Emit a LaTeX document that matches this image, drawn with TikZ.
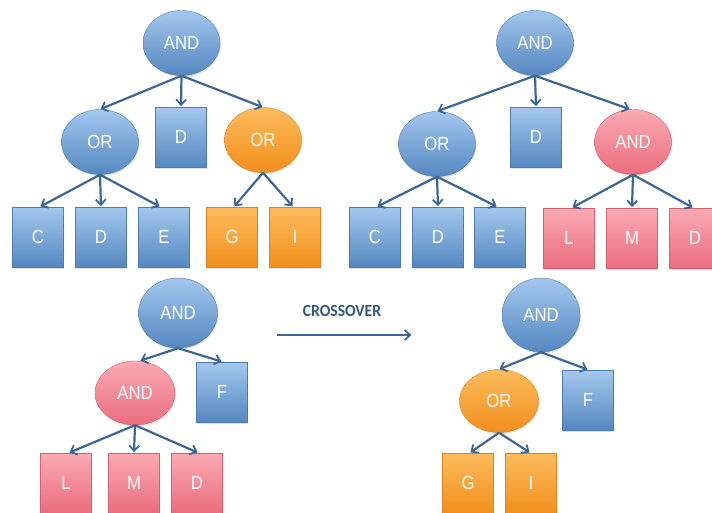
\documentclass[tikz,border=0pt]{standalone}
\usepackage{fontspec}
\usepackage{graphicx}
\setmainfont{Liberation Sans}
\newfontfamily\crossfont{Carlito}
\usetikzlibrary{shapes.geometric,arrows.meta,shadows}
\definecolor{bT}{HTML}{A3C8EE}
\definecolor{bB}{HTML}{5587C0}
\definecolor{bD}{HTML}{4C7CB2}
\definecolor{oT}{HTML}{FDBB5C}
\definecolor{oB}{HTML}{F28F1C}
\definecolor{oD}{HTML}{DB8420}
\definecolor{pT}{HTML}{FAAAB3}
\definecolor{pB}{HTML}{EB6D7E}
\definecolor{pD}{HTML}{D6606F}
\definecolor{arrc}{HTML}{3A6699}
\definecolor{crossc}{HTML}{34557F}
\newcommand{\lbl}[1]{\scalebox{0.88}[1]{#1}}
\tikzset{
  base/.style={text=white,font=\fontsize{19}{19}\selectfont,inner sep=0pt,
    drop shadow={shadow xshift=0.8pt,shadow yshift=-1.5pt,opacity=0.25}},
  oval/.style={base,ellipse,minimum width=77pt,minimum height=65pt},
  leaf/.style={base,rectangle,minimum width=51pt,minimum height=60pt,line width=0.6pt},
  blue/.style={top color=bT,bottom color=bB,draw=bD},
  orange/.style={top color=oT,bottom color=oB,draw=oD},
  pink/.style={top color=pT,bottom color=pB,draw=pD},
  arr/.style={draw=arrc,line width=2.2pt,-{Straight Barb[length=5.5pt,width=10pt,line width=1.8pt]},shorten >=0.5pt},
}
\begin{document}
\begin{tikzpicture}[x=1pt,y=-1pt]
\useasboundingbox (0,0) rectangle (712,512);
% top-left tree
\node[oval,blue] (a1) at (181.5,43) {\lbl{AND}};
\node[oval,blue] (o1) at (100,142) {\lbl{OR}};
\node[leaf,blue] (d1) at (181,137) {\lbl{D}};
\node[oval,orange] (o2) at (263,140) {\lbl{OR}};
\node[leaf,blue] (c1) at (38,237) {\lbl{C}};
\node[leaf,blue] (d2) at (101,237) {\lbl{D}};
\node[leaf,blue] (e1) at (164,237) {\lbl{E}};
\node[leaf,orange] (g1) at (232,237) {\lbl{G}};
\node[leaf,orange] (i1) at (295,237) {\lbl{I}};
\draw[arr] (a1.south) -- (o1.north);
\draw[arr] (a1.south) -- (d1.north);
\draw[arr] (a1.south) -- (o2.north);
\draw[arr] (o1.south) -- ([xshift=2pt]c1.north);
\draw[arr] (o1.south) -- (d2.north);
\draw[arr] (o1.south) -- ([xshift=-4pt]e1.north);
\draw[arr] (o2.south) -- ([xshift=2pt]g1.north);
\draw[arr] (o2.south) -- ([xshift=-2pt]i1.north);
% top-right tree
\node[oval,blue] (a2) at (535,43) {\lbl{AND}};
\node[oval,blue] (o3) at (437,144) {\lbl{OR}};
\node[leaf,blue] (d3) at (536,137) {\lbl{D}};
\node[oval,pink] (a3) at (633,142) {\lbl{AND}};
\node[leaf,blue] (c2) at (375,237) {\lbl{C}};
\node[leaf,blue] (d4) at (438,237) {\lbl{D}};
\node[leaf,blue] (e2) at (500,237) {\lbl{E}};
\node[leaf,pink] (l1) at (569,238) {\lbl{L}};
\node[leaf,pink] (m1) at (632,238) {\lbl{M}};
\node[leaf,pink] (d5) at (695,238) {\lbl{D}};
\draw[arr] (a2.south) -- (o3.north);
\draw[arr] (a2.south) -- (d3.north);
\draw[arr] (a2.south) -- ([xshift=-3pt]a3.north);
\draw[arr] (o3.south) -- ([xshift=2pt]c2.north);
\draw[arr] (o3.south) -- (d4.north);
\draw[arr] (o3.south) -- ([xshift=-3pt]e2.north);
\draw[arr] (a3.south) -- ([xshift=3pt]l1.north);
\draw[arr] (a3.south) -- (m1.north);
\draw[arr] (a3.south) -- ([xshift=-2pt]d5.north);
% bottom-left tree
\node[oval,blue,minimum width=79pt,minimum height=70pt] (a4) at (178,313) {\lbl{AND}};
\node[oval,pink,minimum width=80pt,minimum height=64pt] (a5) at (135,393) {\lbl{AND}};
\node[leaf,blue] (f1) at (222,392) {\lbl{F}};
\node[leaf,pink] (l2) at (66,483) {\lbl{L}};
\node[leaf,pink] (m2) at (134,483) {\lbl{M}};
\node[leaf,pink] (d6) at (197,483) {\lbl{D}};
\draw[arr] (a4.south) -- ([xshift=5pt]a5.north);
\draw[arr] (a4.south) -- (f1.north);
\draw[arr] (a5.south) -- ([xshift=3pt]l2.north);
\draw[arr] (a5.south) -- (m2.north);
\draw[arr] (a5.south) -- ([xshift=1pt]d6.north);
% crossover
\node[font=\crossfont\bfseries\fontsize{17}{17}\selectfont,text=crossc] (cx) at (342,311) {\scalebox{0.92}[1]{CROSSOVER}};
\coordinate (xs) at (277,335);
\coordinate (xe) at (412,335);
\draw[arr,line width=1.6pt] (xs) -- (xe);
% bottom-right tree
\node[oval,blue,minimum width=78pt,minimum height=74pt] (a6) at (541,315) {\lbl{AND}};
\node[oval,orange,minimum width=79pt,minimum height=63pt] (o4) at (499,401) {\lbl{OR}};
\node[leaf,blue] (f2) at (588,400) {\lbl{F}};
\node[leaf,orange] (g2) at (468,483) {\lbl{G}};
\node[leaf,orange] (i2) at (531,483) {\lbl{I}};
\draw[arr] (a6.south) -- (o4.north);
\draw[arr] (a6.south) -- (f2.north);
\draw[arr] (o4.south) -- ([xshift=2pt]g2.north);
\draw[arr] (o4.south) -- ([xshift=-1pt]i2.north);
\end{tikzpicture}
\end{document}
